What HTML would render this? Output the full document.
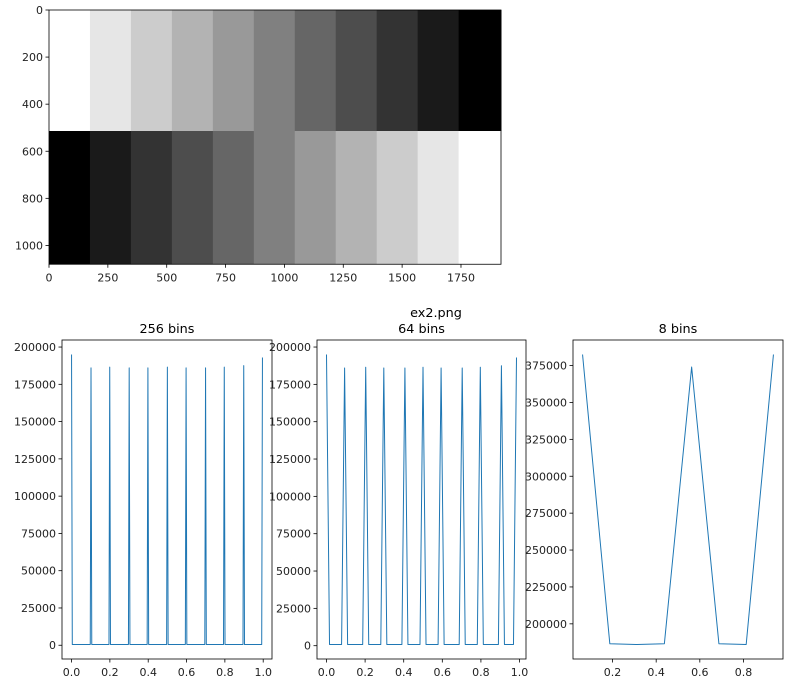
<!DOCTYPE html>
<html><head><meta charset="utf-8"><style>
body{margin:0;background:#fff;}
svg{display:block;font-family:"DejaVu Sans","Liberation Sans",sans-serif;}
</style></head><body>
<svg id="fig" width="795" height="686" viewBox="0 0 795 686"></svg>
<script>
// image data
const topRowGray = [255,230,204,179,153,128,102,77,51,26,0];
const bottomRowGray = [0,26,51,77,102,128,153,179,204,230,255];
const imgXTicks = [0,250,500,750,1000,1250,1500,1750];
const imgYTicks = [0,200,400,600,800,1000];
// 256 bins
const spikeBins256 = [0,26,51,77,102,128,153,179,204,230,255];
const spikeVals256 = [195000,186000,186500,186000,186000,186500,186000,186000,186500,187500,193000];
const base256 = 500;
// 64 bins
const spikeBins64 = [0,6,13,19,26,32,38,45,51,58,63];
const spikeVals64 = [195000,186000,186500,186000,186000,186500,186000,186000,186500,187500,193000];
const base64 = 800;
// 8 bins
const vals8 = [382500,186500,186000,186500,374000,186500,186000,382500];
const ticks01 = [0,0.2,0.4,0.6,0.8,1.0];
const ticks8x = [0.2,0.4,0.6,0.8];
const yTicksA = [0,25000,50000,75000,100000,125000,150000,175000,200000];
const yTicks8 = [200000,225000,250000,275000,300000,325000,350000,375000];

const NS="http://www.w3.org/2000/svg";
const svg=document.getElementById('fig');
function mk(tag,attrs,parent){const e=document.createElementNS(NS,tag);for(const k in attrs)e.setAttribute(k,attrs[k]);(parent||svg).appendChild(e);return e;}

// ---- top image ----
const img = mk('g',{});


const IX0=49, IY0=10, S=452/1920;
const ix=v=>IX0+v*S, iy=v=>IY0+v*S;
const colW=174, splitY=514;
function cellW(i,n){return i===n-1?1920-i*colW:colW;}
topRowGray.forEach((g,i)=>{
  const r=mk('rect',{x:ix(i*colW),y:iy(0),width:cellW(i,topRowGray.length)*S+0.5,height:splitY*S+0.3,fill:`rgb(${g},${g},${g})`},img);
  
  
});
bottomRowGray.forEach((g,i)=>{
  const r=mk('rect',{x:ix(i*colW),y:iy(splitY),width:cellW(i,bottomRowGray.length)*S+0.5,height:(1080-splitY)*S,fill:`rgb(${g},${g},${g})`},img);
  
  
});
const imgFrame=mk('rect',{x:ix(0),y:iy(0),width:1920*S,height:1080*S,fill:'none',stroke:'#000','stroke-width':0.8});


imgXTicks.forEach(t=>{
  mk('line',{x1:ix(t),x2:ix(t),y1:iy(1080),y2:iy(1080)+3.5,stroke:'#000','stroke-width':0.8});
  const tx=mk('text',{x:ix(t),y:iy(1080)+17,'font-size':11,'text-anchor':'middle',fill:'#222'});tx.textContent=t;
  
  
});
imgYTicks.forEach(t=>{
  mk('line',{x1:ix(0)-3.5,x2:ix(0),y1:iy(t),y2:iy(t),stroke:'#000','stroke-width':0.8});
  const tx=mk('text',{x:ix(0)-6,y:iy(t)+4,'font-size':11,'text-anchor':'end',fill:'#222'});tx.textContent=t;
  
  
});

// ---- suptitle ----
const st=mk('text',{x:436,y:317,'font-size':12.8,'text-anchor':'middle',fill:'#000'});st.textContent='ex2.png';



function plot(name,L,R,T,B,xs,ys,xTicks,yTicks,title){
  const g=mk('g',{});
  
  
  const xmin=Math.min(...xs),xmax=Math.max(...xs),ymin=Math.min(...ys),ymax=Math.max(...ys);
  const xr=xmax-xmin,yr=ymax-ymin;
  const x0=xmin-0.05*xr,x1=xmax+0.05*xr,y0=ymin-0.05*yr,y1=ymax+0.05*yr;
  const sx=v=>L+(v-x0)/(x1-x0)*(R-L), sy=v=>B-(v-y0)/(y1-y0)*(B-T);
  const d=xs.map((x,i)=>(i?'L':'M')+sx(x).toFixed(2)+','+sy(ys[i]).toFixed(2)).join('');
  const p=mk('path',{d:d,fill:'none',stroke:'#1f77b4','stroke-width':1,'stroke-linejoin':'round'},g);
  
  
  const f=mk('rect',{x:L,y:T,width:R-L,height:B-T,fill:'none',stroke:'#000','stroke-width':0.8},g);
  
  
  xTicks.forEach(t=>{
    mk('line',{x1:sx(t),x2:sx(t),y1:B,y2:B+3.5,stroke:'#000','stroke-width':0.8},g);
    const tx=mk('text',{x:sx(t),y:B+17,'font-size':11,'text-anchor':'middle',fill:'#222'},g);tx.textContent=t.toFixed(1);
    
    
  });
  yTicks.forEach(t=>{
    mk('line',{x1:L-3.5,x2:L,y1:sy(t),y2:sy(t),stroke:'#000','stroke-width':0.8},g);
    const tx=mk('text',{x:L-6,y:sy(t)+4,'font-size':11,'text-anchor':'end',fill:'#222'},g);tx.textContent=t;
    
    
  });
  const tt=mk('text',{x:(L+R)/2,y:T-7,'font-size':12.8,'text-anchor':'middle',fill:'#000'},g);tt.textContent=title;
  
  
}
function build(n,bins,vals,base){
  const xs=[],ys=[];
  for(let i=0;i<n;i++){xs.push(i/n);const k=bins.indexOf(i);ys.push(k>=0?vals[k]:base);}
  return [xs,ys];
}
const [x256,y256]=build(256,spikeBins256,spikeVals256,base256);
plot('histogram-256-bins',62,272,340,659,x256,y256,ticks01,yTicksA,'256 bins');
const [x64,y64]=build(64,spikeBins64,spikeVals64,base64);
plot('histogram-64-bins',317,526,340,659,x64,y64,ticks01,yTicksA,'64 bins');
const x8=vals8.map((v,i)=>(i+0.5)/vals8.length);
plot('histogram-8-bins',573,783,340,659,x8,vals8,ticks8x,yTicks8,'8 bins');
</script>
</body></html>
